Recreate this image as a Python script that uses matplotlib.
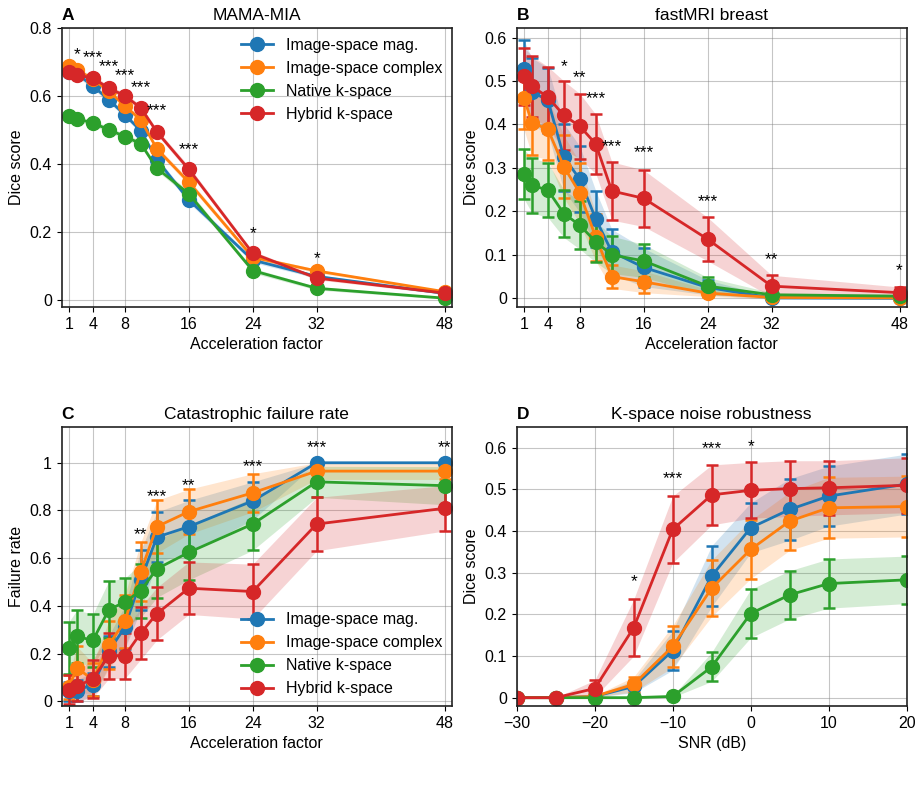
import matplotlib
matplotlib.use('Agg')
import matplotlib.pyplot as plt
from matplotlib.lines import Line2D
from matplotlib.ticker import FuncFormatter

plt.rcParams['font.family'] = ['Liberation Sans', 'DejaVu Sans']
plt.rcParams['font.size'] = 11.5

# ---------------- data ----------------
acc = [1, 2, 4, 6, 8, 10, 12, 16, 24, 32, 48]
snr = [-30, -25, -20, -15, -10, -5, 0, 5, 10, 20]
methods = ['Image-space mag.', 'Image-space complex', 'Native k-space', 'Hybrid k-space']
colors = ['#1f77b4', '#ff7f0e', '#2ca02c', '#d62728']

# A: MAMA-MIA dice
mama_mag = [0.672, 0.665, 0.630, 0.589, 0.545, 0.498, 0.413, 0.295, 0.118, 0.070, 0.020]
mama_cplx = [0.689, 0.677, 0.650, 0.614, 0.571, 0.530, 0.445, 0.347, 0.126, 0.086, 0.025]
mama_native = [0.542, 0.533, 0.521, 0.501, 0.481, 0.460, 0.388, 0.313, 0.087, 0.035, 0.006]
mama_hybrid = [0.672, 0.662, 0.653, 0.623, 0.601, 0.565, 0.495, 0.385, 0.138, 0.065, 0.021]
mama_ci = [0.008, 0.008, 0.008, 0.008, 0.008, 0.008, 0.008, 0.009, 0.007, 0.005, 0.003]

# B: fastMRI breast dice
fm_mag = [0.527, 0.475, 0.456, 0.325, 0.274, 0.182, 0.107, 0.071, 0.025, 0.001, 0.000]
fm_mag_ci = [0.067, 0.078, 0.075, 0.077, 0.076, 0.065, 0.052, 0.044, 0.017, 0.003, 0.002]
fm_cplx = [0.462, 0.404, 0.389, 0.303, 0.242, 0.140, 0.050, 0.038, 0.012, 0.002, 0.001]
fm_cplx_ci = [0.073, 0.075, 0.070, 0.072, 0.070, 0.055, 0.027, 0.025, 0.008, 0.003, 0.002]
fm_native = [0.286, 0.260, 0.249, 0.195, 0.168, 0.130, 0.100, 0.086, 0.028, 0.008, 0.005]
fm_native_ci = [0.057, 0.063, 0.063, 0.055, 0.055, 0.047, 0.043, 0.038, 0.020, 0.005, 0.004]
fm_hybrid = [0.511, 0.488, 0.463, 0.421, 0.396, 0.355, 0.247, 0.230, 0.136, 0.028, 0.013]
fm_hybrid_ci = [0.066, 0.070, 0.070, 0.079, 0.075, 0.068, 0.067, 0.065, 0.050, 0.025, 0.013]

# C: catastrophic failure rate
cf_mag = [0.042, 0.045, 0.070, 0.210, 0.310, 0.509, 0.688, 0.732, 0.840, 1.000, 1.000]
cf_mag_ci = [0.040, 0.045, 0.050, 0.065, 0.090, 0.125, 0.105, 0.110, 0.080, 0.000, 0.000]
cf_cplx = [0.060, 0.140, 0.090, 0.237, 0.335, 0.544, 0.732, 0.795, 0.874, 0.965, 0.965]
cf_cplx_ci = [0.050, 0.090, 0.070, 0.100, 0.110, 0.123, 0.110, 0.094, 0.080, 0.035, 0.035]
cf_native = [0.223, 0.272, 0.255, 0.384, 0.416, 0.464, 0.555, 0.624, 0.743, 0.920, 0.904]
cf_native_ci = [0.110, 0.110, 0.110, 0.120, 0.100, 0.113, 0.120, 0.115, 0.110, 0.065, 0.080]
cf_hybrid = [0.049, 0.063, 0.094, 0.191, 0.191, 0.286, 0.367, 0.474, 0.460, 0.743, 0.809]
cf_hybrid_ci = [0.060, 0.063, 0.080, 0.096, 0.096, 0.110, 0.110, 0.110, 0.115, 0.112, 0.095]

# D: k-space noise robustness
nr_mag = [0, 0, 0.003, 0.027, 0.113, 0.292, 0.408, 0.452, 0.484, 0.513]
nr_mag_ci = [0, 0, 0.002, 0.015, 0.047, 0.073, 0.060, 0.074, 0.072, 0.072]
nr_cplx = [0, 0, 0.003, 0.032, 0.123, 0.263, 0.356, 0.424, 0.456, 0.459]
nr_cplx_ci = [0, 0, 0.002, 0.018, 0.050, 0.068, 0.070, 0.070, 0.073, 0.073]
nr_native = [0, 0, 0, 0, 0.003, 0.074, 0.202, 0.247, 0.274, 0.283]
nr_native_ci = [0, 0, 0, 0, 0.002, 0.035, 0.058, 0.058, 0.059, 0.057]
nr_hybrid = [0, 0, 0.022, 0.168, 0.404, 0.487, 0.498, 0.502, 0.504, 0.510]
nr_hybrid_ci = [0, 0, 0.020, 0.068, 0.080, 0.072, 0.067, 0.067, 0.065, 0.066]

# significance stars (x, label, y)
stars_a_x = [2, 4, 6, 8, 10, 12, 16, 24, 32]
stars_a = ['*', '***', '***', '***', '***', '***', '***', '*', '*']
stars_a_y = [0.736, 0.726, 0.700, 0.674, 0.638, 0.569, 0.457, 0.210, 0.136]
stars_b_x = [6, 8, 10, 12, 16, 24, 32, 48]
stars_b = ['*', '**', '***', '***', '***', '***', '**', '*']
stars_b_y = [0.544, 0.519, 0.471, 0.360, 0.345, 0.234, 0.100, 0.074]
stars_c_x = [10, 12, 16, 24, 32, 48]
stars_c = ['**', '***', '**', '***', '***', '**']
stars_c_y = [0.718, 0.879, 0.923, 1.004, 1.083, 1.083]
stars_d_x = [-15, -10, -5, 0]
stars_d = ['*', '***', '***', '*']
stars_d_y = [0.290, 0.536, 0.608, 0.613]

fmt = FuncFormatter(lambda v, _: f'{v:g}'.replace('-', '\u2212'))
MS = 10


def panel(ax, x, series, cis, letter, title, xlabel, ylabel, errbars=True):
    for m, c, y, ci in zip(methods, colors, series, cis):
        lo = [a - b for a, b in zip(y, ci)]
        hi = [a + b for a, b in zip(y, ci)]
        ax.fill_between(x, lo, hi, color=c, alpha=0.2, lw=0)
        if errbars:
            ax.errorbar(x, y, yerr=ci, color=c, lw=2, marker='o', ms=MS,
                        capsize=4, elinewidth=1.8, capthick=1.8)
        else:
            ax.plot(x, y, color=c, lw=2, marker='o', ms=MS)
    ax.set_title(letter, loc='left', fontweight='bold', fontsize=12.5)
    ax.set_title(title, fontsize=12.5)
    ax.set_xlabel(xlabel)
    ax.set_ylabel(ylabel)
    ax.grid(True, color='gray', alpha=0.45, lw=0.8)
    ax.set_axisbelow(True)
    ax.yaxis.set_major_formatter(fmt)
    ax.xaxis.set_major_formatter(fmt)
    for s in ax.spines.values():
        s.set_linewidth(1.2)
        s.set_color('#222222')


def add_stars(ax, xs, labels, ys):
    for x, t, y in zip(xs, labels, ys):
        ax.annotate(t, (x, y), xytext=(0, -6.5), textcoords='offset points',
                    ha='center', va='baseline', fontsize=12.5, annotation_clip=False,
                    clip_on=True)


def add_legend(ax, loc):
    handles = [Line2D([], [], color=c, lw=2, marker='o', ms=MS) for c in colors]
    ax.legend(handles, methods, loc=loc, frameon=False, borderaxespad=0.2)


fig = plt.figure(figsize=(9.22, 7.99), dpi=100)
W, H = 922, 799
axA = fig.add_axes([61.7 / W, 1 - 307 / H, 390 / W, 279 / H])
axB = fig.add_axes([516.7 / W, 1 - 307 / H, 390 / W, 279 / H])
axC = fig.add_axes([61.7 / W, 1 - 706 / H, 390 / W, 279 / H])
axD = fig.add_axes([516.7 / W, 1 - 706 / H, 390 / W, 279 / H])

panel(axA, acc, [mama_mag, mama_cplx, mama_native, mama_hybrid],
      [mama_ci, mama_ci, mama_ci, mama_ci], 'A', 'MAMA-MIA',
      'Acceleration factor', 'Dice score', errbars=False)
axA.set_ylim(-0.02, 0.8)
axA.set_yticks([0, 0.2, 0.4, 0.6, 0.8])
add_stars(axA, stars_a_x, stars_a, stars_a_y)
add_legend(axA, 'upper right')

panel(axB, acc, [fm_mag, fm_cplx, fm_native, fm_hybrid],
      [fm_mag_ci, fm_cplx_ci, fm_native_ci, fm_hybrid_ci], 'B', 'fastMRI breast',
      'Acceleration factor', 'Dice score')
axB.set_ylim(-0.02, 0.622)
axB.set_yticks([0, 0.1, 0.2, 0.3, 0.4, 0.5, 0.6])
add_stars(axB, stars_b_x, stars_b, stars_b_y)

panel(axC, acc, [cf_mag, cf_cplx, cf_native, cf_hybrid],
      [cf_mag_ci, cf_cplx_ci, cf_native_ci, cf_hybrid_ci], 'C', 'Catastrophic failure rate',
      'Acceleration factor', 'Failure rate')
axC.set_ylim(-0.02, 1.15)
axC.set_yticks([0, 0.2, 0.4, 0.6, 0.8, 1.0])
add_stars(axC, stars_c_x, stars_c, stars_c_y)
add_legend(axC, 'lower right')

for ax in (axA, axB, axC):
    ax.set_xlim(0.1, 48.9)
    ax.set_xticks([1, 4, 8, 16, 24, 32, 48])

panel(axD, snr, [nr_mag, nr_cplx, nr_native, nr_hybrid],
      [nr_mag_ci, nr_cplx_ci, nr_native_ci, nr_hybrid_ci], 'D', 'K-space noise robustness',
      'SNR (dB)', 'Dice score')
axD.set_xlim(-30, 20)
axD.set_ylim(-0.02, 0.65)
axD.set_xticks([-30, -20, -10, 0, 10, 20])
axD.set_yticks([0, 0.1, 0.2, 0.3, 0.4, 0.5, 0.6])
add_stars(axD, stars_d_x, stars_d, stars_d_y)

fig.savefig('out.png', dpi=100)
